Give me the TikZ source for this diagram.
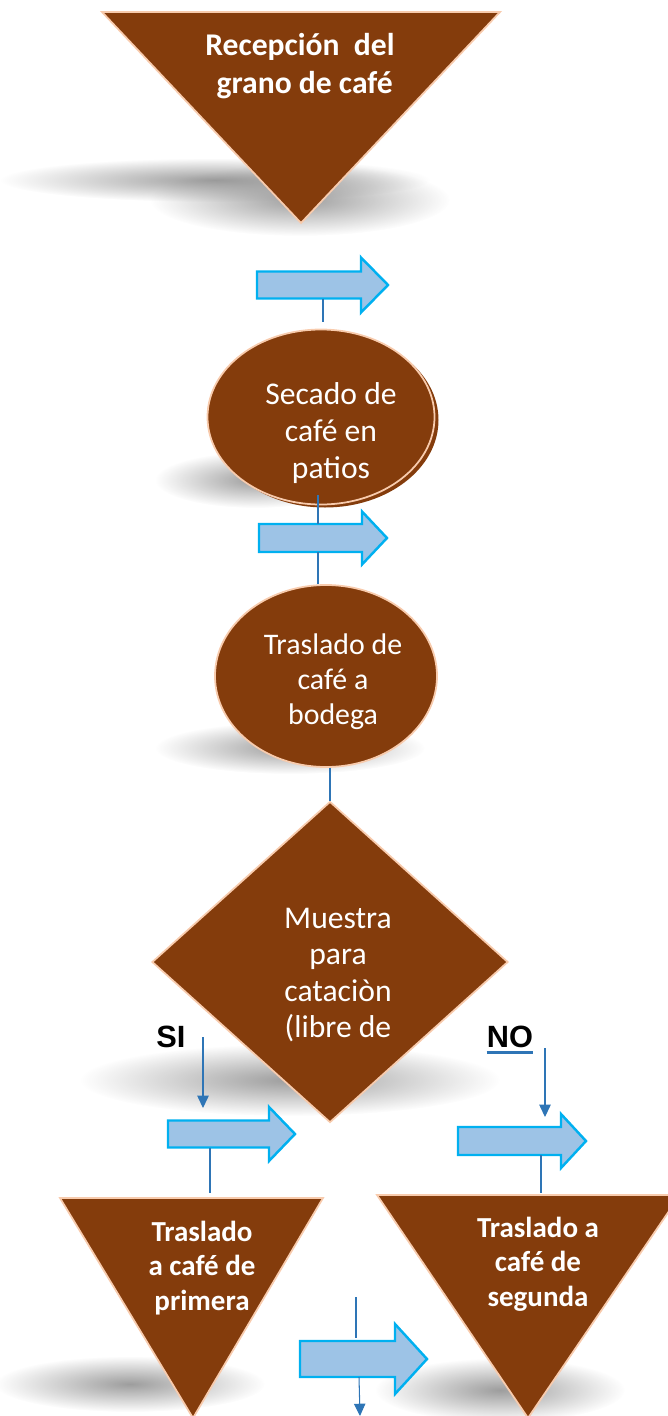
\documentclass[tikz,border=0pt]{standalone}
\usepackage{fontspec}
\setmainfont{Carlito}
\newfontfamily\arialfont{Liberation Sans}
\usepackage{tikz}
\usetikzlibrary{arrows.meta,positioning,calc,shapes.geometric,fadings}
\definecolor{CafeBrown}{HTML}{843C0C}
\definecolor{CafeEdge}{HTML}{F8CBAD}
\definecolor{FlowFill}{HTML}{9DC3E6}
\definecolor{FlowEdge}{HTML}{00B0F0}
\definecolor{LinkBlue}{HTML}{2E75B6}
\def\px{0.02cm}
\tikzfading[name=softblob, inner color=transparent!15, outer color=transparent!100]
\tikzset{
  cafe/.style={fill=CafeBrown, draw=CafeEdge, line width=1pt},
  shadowblob/.style={fill=black!45, path fading=softblob},
  flowarrow/.style={fill=FlowFill, draw=FlowEdge, line width=1.4pt},
  link/.style={draw=LinkBlue, line width=0.6pt},
  linkarrow/.style={link, -{Triangle[length=7pt,width=6.5pt]}},
  boxtxt/.style={text=white, align=center, inner sep=0pt, font=\fontsize{17.5}{20.8}\selectfont},
  boldtxt/.style={boxtxt, font=\fontsize{16.5}{19.6}\selectfont\bfseries},
  sino/.style={inner sep=0pt, font=\fontsize{17.5}{20}\selectfont\arialfont\bfseries}
}

\begin{document}
\begin{tikzpicture}[x=\px, y=-\px]
\useasboundingbox (0,0) rectangle (668,1416);
\foreach \cx/\cy/\rx/\ry in {215/180/215/22, 300/200/150/36, 255/480/100/28, 290/748/135/26,
  290/1080/210/36, 130/1384/135/28, 500/1390/125/32}{
  \fill[shadowblob] (\cx,\cy) ellipse [x radius=\rx, y radius=\ry];
}
\path[cafe] (102,12) coordinate (rec-l) -- (500,12) coordinate (rec-r) -- (301,223) coordinate (rec-b) -- cycle;
\node[boldtxt, font=\fontsize{18}{21.5}\selectfont\bfseries] (recepcion) at (300,66) {Recepción\ \ del\\\hspace*{0.3em}grano de café};
\foreach \nm/\xa/\xb/\xc/\yc/\hs/\hh/\lx in {
  a1/257/361/388/285/13.5/27.5/323,
  a2/259/362/387/538/14/26.5/318,
  a3/168/269/295/1134/13.5/27/210,
  a4/458/561/586/1141/14/27/541,
  a5/300/395/427/1359/18/35/359}{
  \path[flowarrow] ({\xa},{\yc-\hs}) -- ({\xb},{\yc-\hs}) -- ({\xb},{\yc-\hh}) -- ({\xc},\yc)
    -- ({\xb},{\yc+\hh}) -- ({\xb},{\yc+\hs}) -- ({\xa},{\yc+\hs}) -- cycle;
  \coordinate (\nm-t) at (\lx,{\yc-\hs});
  \coordinate (\nm-b) at (\lx,{\yc+\hs});
}
\node[ellipse, fill=CafeBrown, minimum width=227*\px, minimum height=175*\px] (secado-back) at (325,420) {};
\node[cafe, ellipse, minimum width=227*\px, minimum height=175*\px] (secado) at (321,417) {};
\node[boxtxt, font=\fontsize{18}{21.3}\selectfont] (secado-txt) at (331,433) {Secado de\\café en\\patios};
\node[cafe, ellipse, minimum width=222*\px, minimum height=182*\px] (bodega) at (326,676) {};
\node[boxtxt, font=\fontsize{17}{20}\selectfont] (bodega-txt) at (333,682) {Traslado de\\café a\\bodega};
\node[cafe, diamond, minimum width=356*\px, minimum height=321*\px, inner sep=0pt] (muestra) at (330,962) {};
\node[boxtxt, font=\fontsize{18}{20.8}\selectfont] (muestra-txt) at (338,975) {Muestra\\para\\cataciòn\\(libre de};
\path[cafe] (60,1198) coordinate (tri1-l) -- (323,1198) coordinate (tri1-r) -- (193,1418) coordinate (tri1-b) -- cycle;
\node[boldtxt] (primera) at (202,1268) {Traslado\\a café de\\primera};
\path[cafe] (377,1195) coordinate (tri2-l) -- (680,1195) coordinate (tri2-r) -- (528,1418) coordinate (tri2-b) -- cycle;
\node[boldtxt] (segunda) at (538,1264) {Traslado a\\café de\\segunda};
\node[sino] (si) at (171,1037) {SI};
\node[sino] (no) at (510,1037) {NO};
\draw[LinkBlue, line width=1.5pt] ([yshift=-2.8pt]no.base west) -- ([yshift=-2.8pt]no.base east);
\coordinate (si-end) at (203,1108);
\coordinate (no-end) at (545,1117);
\coordinate (mid-start) at (356,1297);
\coordinate (mid-end) at (360,1416);
\draw[link, shorten >=4pt] (a1-b) -- (a1-b |- secado.north);
\draw[link, shorten <=-6pt] (a2-t |- secado.south) -- (a2-t);
\draw[link] (a2-b) -- (a2-b |- bodega.north);
\draw[link] (muestra.north |- bodega.south) -- (muestra.north);
\draw[linkarrow] (si-end |- si.center) -- (si-end);
\draw[linkarrow] (no-end |- no.south) -- (no-end);
\draw[link, shorten >=2.8pt] (a3-b) -- (a3-b |- tri1-l);
\draw[link, shorten >=1pt] (a4-b) -- (a4-b |- tri2-l);
\draw[link, shorten >=2pt] (mid-start) -- (mid-start |- a5-t);
\draw[linkarrow] (a5-b) -- (mid-end);
\end{tikzpicture}
\end{document}
